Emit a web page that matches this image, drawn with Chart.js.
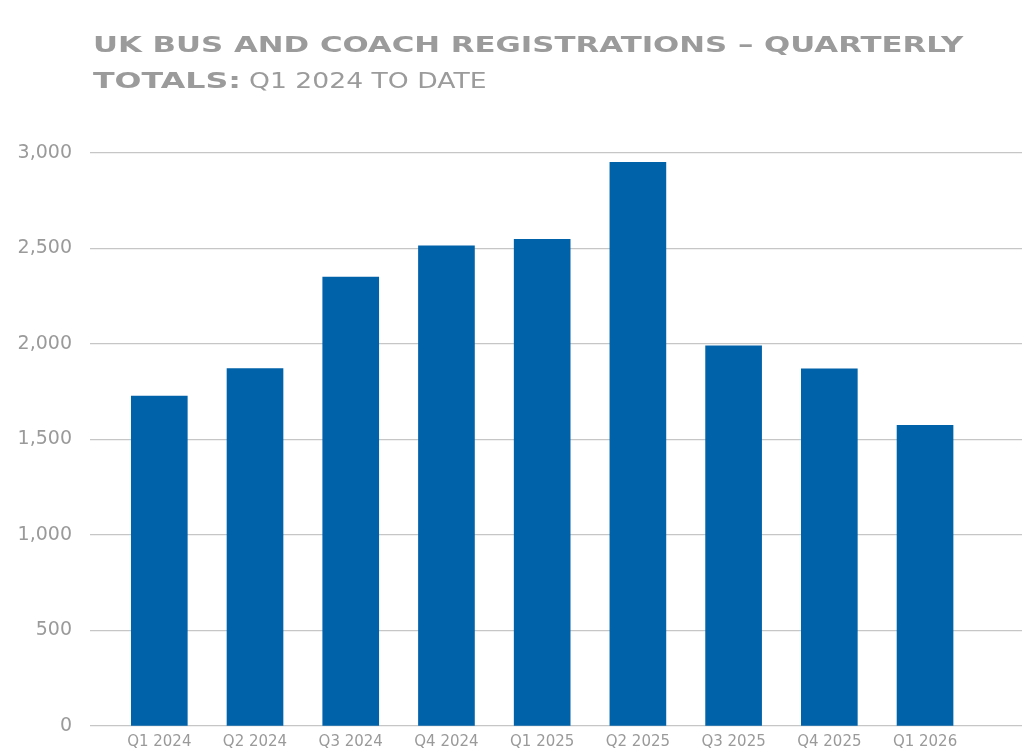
<!DOCTYPE html>
<html>
<head>
<meta charset="utf-8">
<script src="https://cdn.jsdelivr.net/npm/chart.js@4"></script>
<style>
  html, body { margin: 0; padding: 0; background: #fff; }
  #wrap { position: relative; width: 1024px; height: 756px; }
  canvas { position: absolute; left: 0; top: 0; }
  .t { position: absolute; font-family: "DejaVu Sans", sans-serif; font-size: 22px;
       line-height: 22px; white-space: nowrap; color: #9b9b9b; transform-origin: left top; }
  .b { font-weight: bold; }
</style>
</head>
<body>
<div id="wrap">
  <canvas id="chart" width="1024" height="756"></canvas>
  <div class="t b" id="line1" style="left:93px; top:34px; transform: scaleX(1.4);">UK BUS AND COACH REGISTRATIONS – QUARTERLY</div>
  <div class="t b" id="line2a" style="left:93px; top:70px; transform: scaleX(1.44);">TOTALS:</div>
  <div class="t" id="line2b" style="left:249px; top:70px; transform: scaleX(1.21);">Q1 2024 TO DATE</div>
</div>
<script>
// Данные графика
const quarters = ["Q1 2024", "Q2 2024", "Q3 2024", "Q4 2024", "Q1 2025", "Q2 2025", "Q3 2025", "Q4 2025", "Q1 2026"];
const registrations = [1727, 1871, 2351, 2514, 2548, 2951, 1990, 1870, 1574];
const yTickValues = [0, 500, 1000, 1500, 2000, 2500, 3000];

const ctx = document.getElementById("chart").getContext("2d");

new Chart(ctx, {
  type: "bar",
  data: {
    datasets: [
      {
        label: "Registrations",
        data: registrations.map((v, i) => ({ x: i, y: v })),
        backgroundColor: "#0062a8",
        borderWidth: 0,
        barThickness: 56,
      },
    ],
  },
  options: {
    responsive: false,
    animation: false,
    layout: {
      padding: { top: 153, left: 12, right: 2, bottom: 0 },
    },
    plugins: {
      legend: { display: false },
      tooltip: { enabled: false },
    },
    scales: {
      x: {
        type: "linear",
        offset: false,
        min: -0.724,
        max: 9.013,
        afterBuildTicks: (axis) => {
          axis.ticks = quarters.map((_, i) => ({ value: i }));
        },
        afterFit: (axis) => {
          axis.height = 30; // нижний край области графика на 726px
        },
        grid: { display: false, drawTicks: false },
        border: { display: false },
        ticks: {
          autoSkip: false,
          maxRotation: 0,
          padding: 7,
          color: "#9a9a9a",
          font: { size: 15, family: "DejaVu Sans" },
          callback: (value) => quarters[value] ?? "",
        },
      },
      y: {
        min: 0,
        max: 3000,
        afterBuildTicks: (axis) => {
          axis.ticks = yTickValues.map((v) => ({ value: v }));
        },
        afterFit: (axis) => {
          axis.width = 78; // левый край области графика на 90px
        },
        grid: {
          color: "#c6c6c6",
          lineWidth: 1.2,
          drawTicks: false,
        },
        border: { display: false },
        ticks: {
          padding: 18,
          color: "#9a9a9a",
          font: { size: 19, family: "DejaVu Sans" },
          callback: (value) => value.toLocaleString("en-US"),
        },
      },
    },
  },
});
</script>
</body>
</html>
